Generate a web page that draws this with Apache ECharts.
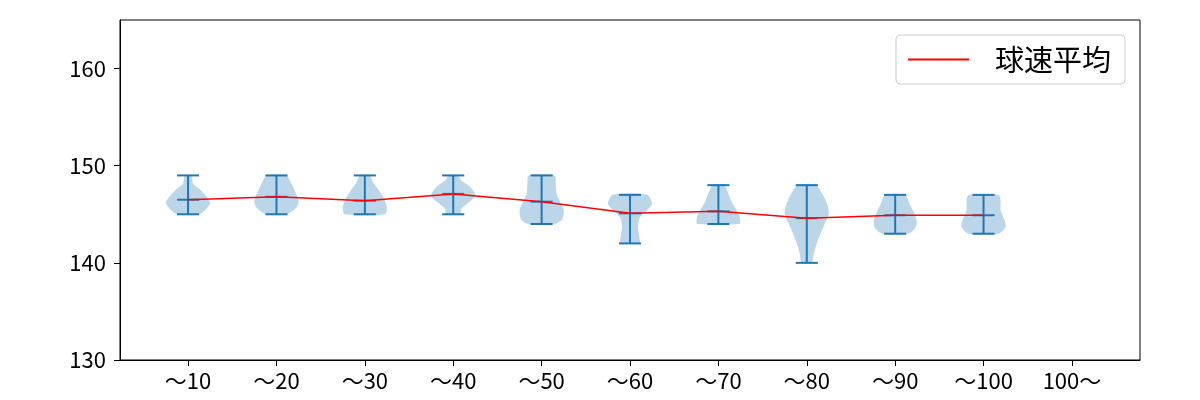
<!DOCTYPE html>
<html>
<head>
<meta charset="utf-8">
<script src="https://cdn.jsdelivr.net/npm/echarts@6/dist/echarts.min.js"></script>
<style>html,body{margin:0;padding:0;background:#fff}#c{width:1200px;height:400px}</style>
</head>
<body>
<div id="c"></div>
<script>
// ---- data ----
const categories = ['～10','～20','～30','～40','～50','～60','～70','～80','～90','～100','100～'];
const yTicks = [130, 140, 150, 160];
const means = [146.5, 146.8, 146.4, 147.1, 146.3, 145.1, 145.3, 144.6, 144.9, 144.9];
const mins  = [145, 145, 145, 145, 144, 142, 144, 140, 143, 143];
const maxs  = [149, 149, 149, 149, 149, 147, 148, 148, 147, 147];
// density profiles: [speed, relative density]
const prof10  = [[145,0.5],[145.55,0.82],[146.24,1.0],[147.45,0.59],[148.14,0.23],[149,0.15]];
const prof20  = [[145,0.45],[145.7,0.91],[146.4,1.0],[147.45,0.82],[148.14,0.68],[149,0.45]];
const prof30  = [[145,0.91],[145.7,1.0],[146.4,0.91],[147.45,0.64],[148.14,0.41],[149,0.21]];
const prof40  = [[145,0.32],[145.55,0.36],[146.0,0.59],[146.9,1.0],[147.8,0.77],[148.5,0.36],[149,0.21]];
const prof50  = [[144,0.59],[144.4,0.91],[145.4,1.0],[146.4,0.82],[147.1,0.68],[148.14,0.64],[149,0.59]];
const prof60  = [[142,0.45],[142.3,0.45],[143.7,0.36],[144.7,0.45],[145.4,0.77],[146.1,1.0],[147,0.77]];
const prof70  = [[144,0.95],[144.2,1.0],[145.07,0.91],[146.1,0.64],[147.14,0.45],[148,0.27]];
const prof80  = [[140,0.23],[140.96,0.32],[142,0.45],[143,0.62],[144.05,0.82],[145.08,1.0],[146.1,0.91],[147.14,0.7],[148,0.41]];
const prof90  = [[143,0.59],[143.55,0.91],[144.24,0.98],[145.1,0.86],[146.14,0.64],[147,0.45]];
const prof100 = [[143,0.67],[143.7,1.0],[144.4,0.95],[145.45,0.77],[146.48,0.77],[147,0.67]];
const profiles = [prof10, prof20, prof30, prof40, prof50, prof60, prof70, prof80, prof90, prof100];

const FONT = '"Noto Sans CJK JP", "Noto Sans", sans-serif';
const HALF = 0.25;   // violin half width (x units)
const CAP = 0.125;   // cap half width
const BLUE = '#1f77b4';

const chart = echarts.init(document.getElementById('c'), null, {renderer: 'canvas'});
const xPos = categories.map((c, i) => i + 1);

chart.setOption({
  animation: false,
  textStyle: {fontFamily: FONT},
  grid: {left: 120, right: 60, top: 20, bottom: 40, show: true, borderColor: '#000', borderWidth: 1, backgroundColor: 'transparent'},
  xAxis: {
    type: 'value', min: 0.23, max: 11.77,
    axisLine: {show: true, lineStyle: {color: '#000', width: 1}},
    axisTick: {show: true, length: 6, lineStyle: {color: '#000'}, customValues: xPos},
    axisLabel: {show: true, customValues: xPos, color: '#000', fontSize: 22, fontFamily: FONT, margin: 10,
      formatter: v => categories[Math.round(v) - 1] || ''},
    splitLine: {show: false}
  },
  yAxis: {
    type: 'value', min: 130, max: 165,
    axisLine: {show: true, lineStyle: {color: '#000', width: 1}},
    axisTick: {show: true, length: 6, lineStyle: {color: '#000'}, customValues: yTicks},
    axisLabel: {show: true, customValues: yTicks, color: '#000', fontSize: 22, fontFamily: FONT, margin: 14},
    splitLine: {show: false}
  },
  legend: {
    show: true, right: 75, top: 35,
    data: [{name: '球速平均', icon: 'rect'}],
    itemWidth: 61, itemHeight: 2,
    padding: [10, 14, 10, 12],
    borderColor: '#cccccc', borderWidth: 1, borderRadius: 4,
    backgroundColor: 'rgba(255,255,255,0.8)',
    textStyle: {fontSize: 29, fontFamily: FONT, color: '#000', padding: [0, 0, 0, 21]}
  },
  series: [
    {
      type: 'custom',
      name: 'violin',
      data: means.map((m, i) => [i + 1, mins[i], maxs[i], m]),
      encode: {x: 0, y: [1, 2, 3]},
      renderItem: function (params, api) {
        const i = params.dataIndex;
        const x = api.value(0), lo = api.value(1), hi = api.value(2), mu = api.value(3);
        const prof = profiles[i];
        const pts = [];
        for (let k = 0; k < prof.length; k++) pts.push(api.coord([x + prof[k][1] * HALF, prof[k][0]]));
        for (let k = prof.length - 1; k >= 0; k--) pts.push(api.coord([x - prof[k][1] * HALF, prof[k][0]]));
        const line = (a, b) => ({type: 'line', shape: {x1: a[0], y1: a[1], x2: b[0], y2: b[1]},
          style: {stroke: BLUE, lineWidth: 2}});
        return {
          type: 'group',
          children: [
            {type: 'polygon', shape: {points: pts, smooth: 0.25}, style: {fill: 'rgba(31,119,180,0.3)', stroke: 'none'}},
            line(api.coord([x, lo]), api.coord([x, hi])),
            line(api.coord([x - CAP, hi]), api.coord([x + CAP, hi])),
            line(api.coord([x - CAP, lo]), api.coord([x + CAP, lo])),
            line(api.coord([x - CAP, mu]), api.coord([x + CAP, mu]))
          ]
        };
      },
      z: 2
    },
    {
      type: 'line',
      name: '球速平均',
      data: means.map((m, i) => [i + 1, m]),
      symbol: 'none',
      lineStyle: {color: '#ff0000', width: 1.5},
      itemStyle: {color: '#ff0000'},
      z: 3
    }
  ]
});
</script>
</body>
</html>
